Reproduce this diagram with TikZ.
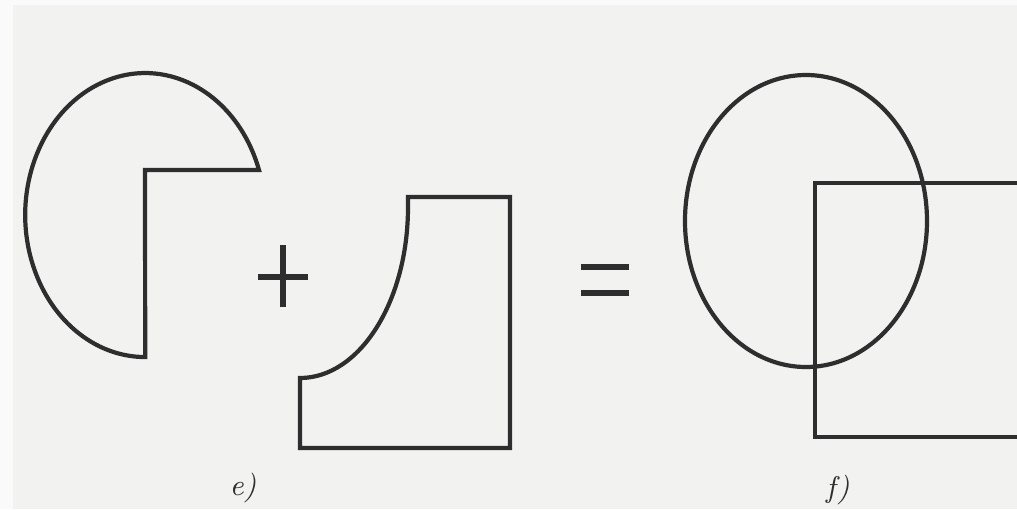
\documentclass[tikz,border=0pt]{standalone}
\usepackage{tikz}
\usetikzlibrary{positioning}
\usepackage{xcolor}
\definecolor{figureink}{HTML}{2E2E2E}
\definecolor{figurepaper}{HTML}{F2F2F0}
\definecolor{figuremargin}{HTML}{FAFAFA}

\begin{document}
\begin{tikzpicture}[
  x=0.1mm,y=0.1mm,
  outline/.style={draw=figureink,line width=.42mm,line join=miter},
  sign/.style={draw=figureink,line width=.55mm},
  lab/.style={inner sep=0pt,text=figureink,font=\fontsize{8.5}{10}\selectfont\itshape}
]
% Paper background, picture size fixed here.
\fill[figurepaper] (0,0) rectangle (1017,509);
\fill[figuremargin] (0,0) rectangle (13,509);
\fill[figuremargin] (0,504) rectangle (1017,509);
\useasboundingbox (0,0) rectangle (1017,509);

% e) ellipse with a quarter cut away, then the notched rectangle.
\draw[outline] (145,339) -- (259,339)
  arc[start angle=18.5,end angle=270,x radius=120,y radius=142] -- cycle;
\draw[sign] (258,232) -- (308,232);
\draw[sign] (283,202) -- (283,264);
\draw[outline] (408,312) -- (510,312) -- (510,61) -- (300,61) -- (300,131)
  arc[start angle=270,end angle=360,x radius=108,y radius=171] -- cycle;
\draw[sign] (581,242) -- (629,242);
\draw[sign] (581,216) -- (629,216);

% f) ellipse and rectangle overlapping; the rectangle runs off the edge.
\begin{scope}
  \clip (0,0) rectangle (1017,509);
  \draw[outline] (806,288) ellipse[x radius=121,y radius=146];
  \draw[outline] (1040,326) -- (815,326) -- (815,72) -- (1040,72);
\end{scope}

\node[lab] (label-e) at (243,21) {e)};
\node[lab] (label-f) at (838,19) {f)};
\end{tikzpicture}
\end{document}
